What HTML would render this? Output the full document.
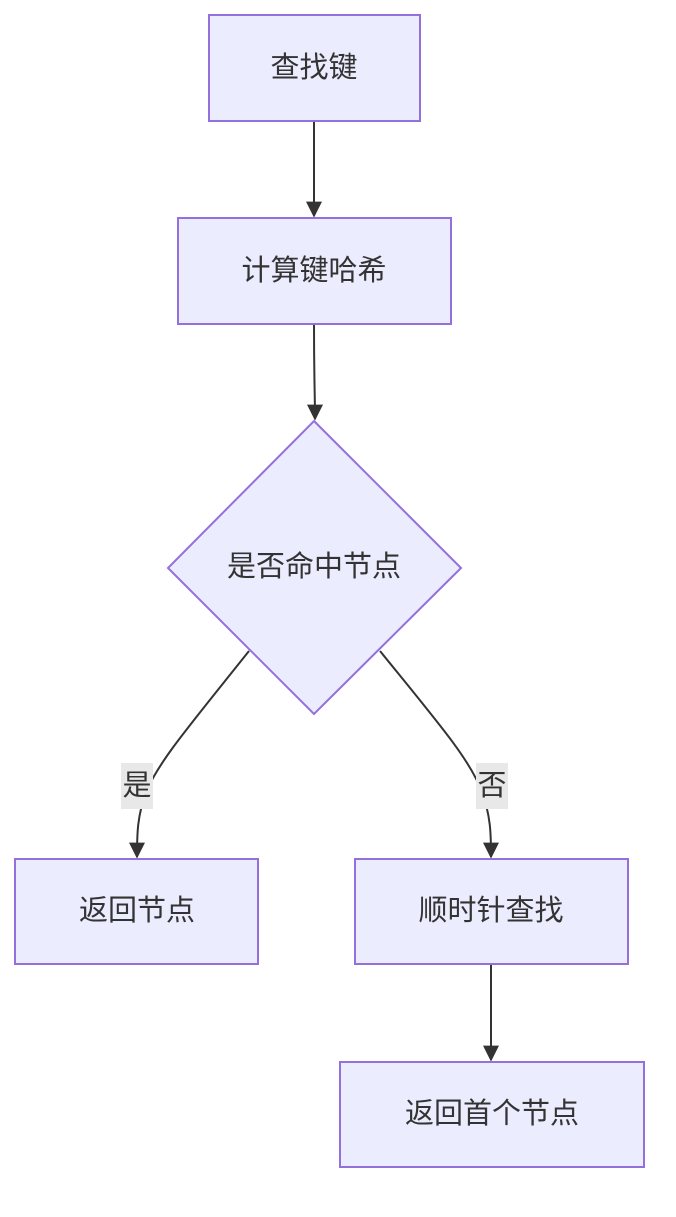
<!DOCTYPE html>
<html><head><meta charset="utf-8"><style>
html,body{margin:0;padding:0;background:#fff;}
svg text{font-family:"Liberation Sans","Noto Sans CJK SC",sans-serif;font-size:29px;fill:#333;}
</style></head><body>
<svg width="676" height="1212" viewBox="0 0 676 1212" xmlns="http://www.w3.org/2000/svg">
<defs><marker id="a" viewBox="0 0 10 10" refX="9" refY="5" markerWidth="8" markerHeight="8" markerUnits="userSpaceOnUse" orient="auto"><path d="M0,0L10,5L0,10z" fill="#333"/></marker>
<marker id="b" viewBox="0 0 10 10" refX="9" refY="5" markerWidth="16" markerHeight="16" markerUnits="userSpaceOnUse" orient="auto"><path d="M0,0L10,5L0,10z" fill="#333"/></marker></defs>
<g fill="none" stroke="#333" stroke-width="2">
<path d="M314,121 L314,216" marker-end="url(#b)"/>
<path d="M314,324 C314,380 315,395 315,419" marker-end="url(#b)"/>
<path d="M249,651 C190,725 160,760 147,790 C137,815 137,835 137,857" marker-end="url(#b)"/>
<path d="M380,651 C440,725 470,760 481,790 C491,815 491,835 491,857" marker-end="url(#b)"/>
<path d="M491,964 L491,1060" marker-end="url(#b)"/>
</g>
<g fill="#ececff" stroke="#9370db" stroke-width="2">
<rect x="209" y="15" width="211" height="106"/>
<rect x="178" y="218" width="273" height="106"/>
<polygon points="314,421 461,568 314,714 168,568"/>
<rect x="15" y="859" width="243" height="105"/>
<rect x="355" y="859" width="273" height="105"/>
<rect x="340" y="1062" width="304" height="105"/>
</g>
<rect x="121" y="763" width="32" height="46" fill="#e8e8e8"/>
<rect x="476" y="763" width="32" height="46" fill="#e8e8e8"/>
<g text-anchor="middle" dominant-baseline="central">
<text x="314" y="68">查找键</text>
<text x="314" y="271">计算键哈希</text>
<text x="314" y="567">是否命中节点</text>
<text x="137" y="911">返回节点</text>
<text x="491" y="911">顺时针查找</text>
<text x="492" y="1114">返回首个节点</text>
<text x="137" y="786">是</text>
<text x="492" y="786">否</text>
</g>
</svg>
</body></html>
